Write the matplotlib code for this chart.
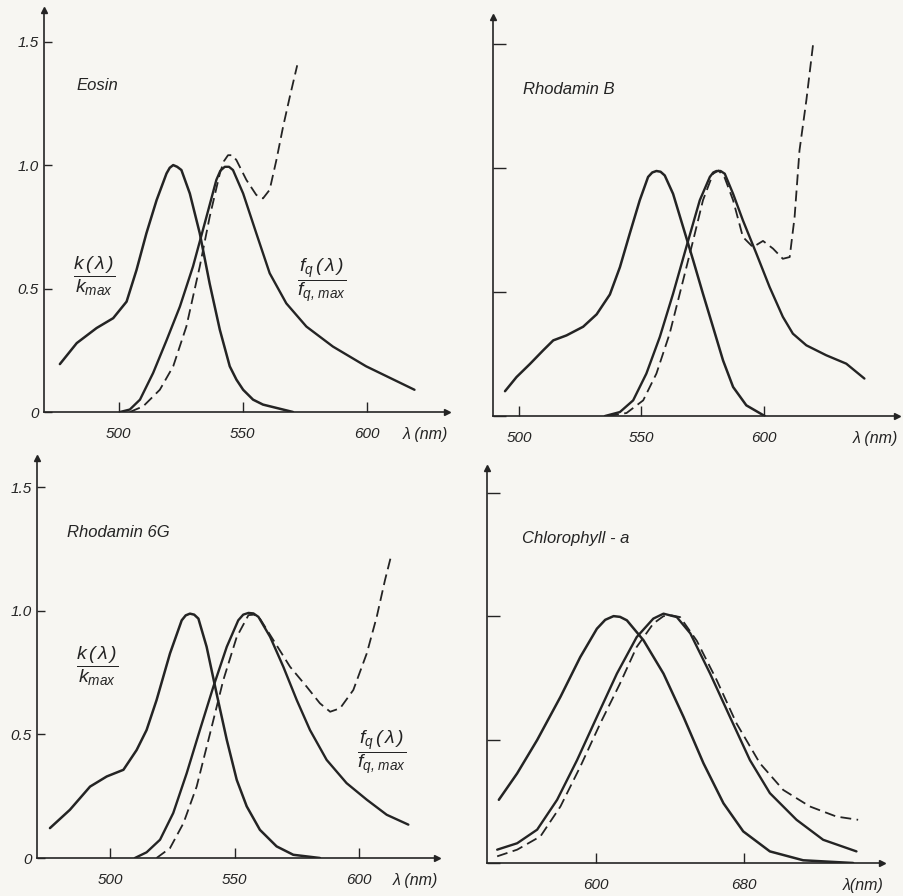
import numpy as np
import matplotlib
matplotlib.use('Agg')
from matplotlib import pyplot as plt

plt.rcParams['font.family'] = ['Liberation Sans', 'DejaVu Sans']
plt.rcParams['font.style'] = 'italic'
plt.rcParams['mathtext.fontset'] = 'custom'
plt.rcParams['mathtext.it'] = 'Liberation Sans:italic'
plt.rcParams['mathtext.rm'] = 'Liberation Sans:italic'

ink = '#242424'
paper = '#f7f6f2'

# ---- Eosin ----
eosin_abs_nm = [476.2, 483.0, 491.0, 497.7, 503.1, 507.1, 511.1, 515.2, 519.2, 520.5, 521.9, 523.5,
                525.2, 528.6, 532.6, 536.6, 540.7, 544.7, 547.4, 550.1, 554.1, 558.1, 570.2]
eosin_abs = [0.194, 0.279, 0.34, 0.38, 0.447, 0.575, 0.724, 0.858, 0.966, 0.989, 1.0, 0.993,
             0.98, 0.885, 0.724, 0.52, 0.333, 0.185, 0.131, 0.09, 0.05, 0.03, 0.0]
eosin_fl_nm = [500.4, 504.4, 508.5, 513.8, 519.2, 524.6, 529.9, 535.3, 539.3, 540.9, 542.7, 544.4,
               546.0, 550.1, 555.4, 560.8, 567.5, 575.6, 586.3, 599.7, 619.2]
eosin_fl = [0.0, 0.01, 0.05, 0.158, 0.29, 0.427, 0.59, 0.79, 0.94, 0.977, 0.993, 0.993,
            0.98, 0.885, 0.724, 0.562, 0.44, 0.346, 0.265, 0.185, 0.09]
eosin_q_nm = [504.4, 509.8, 516.5, 521.9, 527.2, 532.6, 536.6, 540.7, 542.3, 544.0, 545.7, 547.4,
              551.4, 555.4, 558.1, 560.8, 563.5, 566.2, 568.9, 571.9]
eosin_q = [0.0, 0.023, 0.09, 0.185, 0.346, 0.589, 0.79, 0.966, 1.015, 1.04, 1.04, 1.02,
           0.94, 0.879, 0.865, 0.9, 1.02, 1.155, 1.276, 1.404]

# ---- Rhodamin B ----
rhb_abs_nm = [494.3, 499.0, 504.5, 509.9, 514.0, 519.4, 526.2, 531.7, 537.1, 541.2, 545.2, 549.3,
              552.7, 554.4, 556.1, 557.8, 559.5, 562.9, 567.0, 571.1, 575.1, 579.2, 583.3, 587.4,
              592.8, 600.3]
rhb_abs = [0.10, 0.157, 0.21, 0.265, 0.305, 0.325, 0.36, 0.41, 0.49, 0.60, 0.735, 0.87,
           0.964, 0.982, 0.988, 0.985, 0.97, 0.896, 0.762, 0.628, 0.493, 0.359, 0.224, 0.117,
           0.043, 0.0]
rhb_fl_nm = [535.1, 541.2, 546.6, 552.0, 557.5, 562.9, 568.3, 573.8, 577.9, 579.3, 580.6, 582.3,
             584.0, 587.4, 591.4, 596.9, 602.3, 607.7, 611.8, 617.3, 625.4, 633.6, 641.0]
rhb_fl = [0.0, 0.016, 0.063, 0.171, 0.319, 0.493, 0.681, 0.87, 0.964, 0.982, 0.988, 0.988,
          0.977, 0.896, 0.789, 0.655, 0.52, 0.40, 0.332, 0.285, 0.245, 0.211, 0.151]
rhb_q_nm = [536.4, 543.9, 550.7, 556.1, 561.5, 567.0, 571.1, 575.1, 579.2, 581.5, 584.0, 587.4,
            591.4, 595.5, 599.6, 603.7, 607.7, 610.5, 612.5, 614.5, 617.3, 620.0]
rhb_q = [0.0, 0.012, 0.063, 0.171, 0.332, 0.547, 0.708, 0.87, 0.977, 0.99, 0.96, 0.87,
         0.722, 0.681, 0.706, 0.675, 0.634, 0.641, 0.802, 1.071, 1.273, 1.495]

# ---- Rhodamin 6G ----
r6g_abs_nm = [475.9, 483.9, 492.0, 498.7, 505.4, 510.7, 514.7, 518.7, 524.1, 528.8, 530.4, 532.1,
              533.8, 535.5, 538.8, 542.8, 546.9, 550.9, 554.9, 560.2, 566.9, 573.6, 584.3]
r6g_abs = [0.121, 0.195, 0.289, 0.33, 0.357, 0.437, 0.518, 0.639, 0.828, 0.962, 0.982, 0.989,
           0.985, 0.969, 0.855, 0.666, 0.478, 0.316, 0.209, 0.114, 0.047, 0.013, 0.0]
r6g_fl_nm = [510.0, 514.7, 520.1, 525.4, 530.8, 536.1, 541.5, 546.9, 551.5, 553.5, 555.6, 557.6,
             559.6, 564.3, 569.6, 575.0, 580.3, 587.0, 595.0, 603.1, 611.1, 619.8]
r6g_fl = [0.0, 0.023, 0.074, 0.182, 0.343, 0.518, 0.693, 0.855, 0.962, 0.985, 0.992, 0.99,
          0.976, 0.895, 0.774, 0.639, 0.518, 0.397, 0.303, 0.236, 0.175, 0.135]
r6g_q_nm = [518.7, 524.1, 529.5, 534.8, 540.2, 545.5, 550.9, 555.6, 557.9, 560.2, 565.6, 572.3,
            579.0, 584.3, 588.4, 592.4, 597.7, 603.1, 607.1, 610.4, 613.1]
r6g_q = [0.0, 0.04, 0.141, 0.289, 0.505, 0.72, 0.895, 0.983, 0.985, 0.969, 0.882, 0.774,
         0.693, 0.626, 0.592, 0.606, 0.68, 0.828, 0.976, 1.124, 1.232]

# ---- Chlorophyll-a ----
chl_abs_nm = [547.5, 557.4, 568.2, 580.8, 591.5, 600.5, 605.0, 609.5, 613.0, 616.7, 625.7, 636.5,
              647.3, 658.1, 668.9, 679.6, 694.0, 712.0, 739.0]
chl_abs = [0.256, 0.363, 0.498, 0.673, 0.834, 0.949, 0.985, 1.0, 0.997, 0.983, 0.902, 0.767,
           0.592, 0.404, 0.242, 0.128, 0.047, 0.011, 0.0]
chl_fl_nm = [546.6, 557.4, 568.2, 579.0, 589.8, 600.5, 611.3, 622.0, 631.0, 636.5, 643.7, 651.0,
             661.7, 672.4, 683.2, 694.0, 708.4, 722.8, 740.8]
chl_fl = [0.054, 0.08, 0.135, 0.256, 0.417, 0.592, 0.767, 0.915, 0.99, 1.01, 0.996, 0.93,
          0.767, 0.592, 0.417, 0.283, 0.175, 0.094, 0.047]
chl_q_nm = [546.6, 557.4, 570.0, 580.8, 591.5, 602.3, 613.0, 622.0, 631.0, 636.5, 641.0, 645.5,
            654.5, 665.3, 676.0, 688.6, 701.2, 715.6, 730.0, 741.7]
chl_q = [0.027, 0.054, 0.108, 0.229, 0.39, 0.565, 0.727, 0.875, 0.97, 1.0, 1.003, 0.996,
         0.90, 0.74, 0.565, 0.404, 0.296, 0.229, 0.188, 0.175]

names = ['Eosin', 'Rhodamin B', 'Rhodamin 6G', 'Chlorophyll - a']
xticks = [[500, 550, 600], [500, 550, 600], [500, 550, 600], [600, 680]]
yticks = [0, 0.5, 1.0, 1.5]
ylabels = ['0', '0.5', '1.0', '1.5']

# panel boxes in pixels: left, bottom, right, top ; and x/y limits
boxes = [(44, 412, 447, 10), (493, 416, 897, 17), (37, 858, 437, 458), (487, 863, 882, 468)]
xlims = [(469.8, 632.3), (489.4, 654.3), (470.7, 631.3), (541.1, 754.6)]
ylims = [1.628, 1.609, 1.619, 1.60]
name_pos = [(483.1, 1.324), (501.6, 1.315), (482.7, 1.316), (560.0, 1.316)]

data = [(eosin_abs_nm, eosin_abs, eosin_fl_nm, eosin_fl, eosin_q_nm, eosin_q),
        (rhb_abs_nm, rhb_abs, rhb_fl_nm, rhb_fl, rhb_q_nm, rhb_q),
        (r6g_abs_nm, r6g_abs, r6g_fl_nm, r6g_fl, r6g_q_nm, r6g_q),
        (chl_abs_nm, chl_abs, chl_fl_nm, chl_fl, chl_q_nm, chl_q)]

W, H = 904, 896
fig = plt.figure(figsize=(W / 100, H / 100), dpi=100, facecolor=paper)

axes = []
for i in range(4):
    l, b, r, t = boxes[i]
    ax = fig.add_axes([l / W, 1 - b / H, (r - l) / W, (b - t) / H])
    ax.set_facecolor('none')
    ax.set_xlim(*xlims[i])
    ax.set_ylim(0, ylims[i])
    for s in ['top', 'right']:
        ax.spines[s].set_visible(False)
    for s in ['left', 'bottom']:
        ax.spines[s].set_color(ink)
        ax.spines[s].set_linewidth(1.2)

    a_nm, a_v, f_nm, f_v, q_nm, q_v = data[i]
    ax.plot(a_nm, a_v, color=ink, lw=1.8, solid_joinstyle='round', solid_capstyle='round')
    ax.plot(f_nm, f_v, color=ink, lw=1.7, solid_joinstyle='round', solid_capstyle='round')
    ax.plot(q_nm, q_v, color=ink, lw=1.3, ls=(0, (6, 3)))

    ax.set_xticks(xticks[i])
    ax.set_xticklabels([str(v) for v in xticks[i]])
    ax.set_yticks(yticks)
    if i in (0, 2):
        ax.set_yticklabels(ylabels)
        ylen = 6
    else:
        ax.set_yticklabels([])
        ylen = 9
    ax.tick_params(axis='x', direction='in', length=7, width=1.0, color=ink,
                   labelsize=11, labelcolor=ink, pad=11)
    ax.tick_params(axis='y', direction='in', length=ylen, width=1.0, color=ink,
                   labelsize=11, labelcolor=ink, pad=4)

    # arrow heads on axes
    ax.plot(1, 0, '>', color=ink, ms=4, transform=ax.transAxes, clip_on=False)
    ax.plot(0, 1, '^', color=ink, ms=4, transform=ax.transAxes, clip_on=False)

    ax.annotate('λ (nm)' if i < 3 else 'λ(nm)', xy=(1, 0), xycoords='axes fraction',
                xytext=(1, -11), textcoords='offset points', ha='right', va='top',
                fontsize=11.5, color=ink)
    ax.text(name_pos[i][0], name_pos[i][1], names[i], fontsize=12, color=ink,
            ha='left', va='center')
    axes.append(ax)

frac_k = r'$\dfrac{k\,(\,\lambda\,)}{k_{max}}$'
frac_f = r'$\dfrac{f_q\,(\,\lambda\,)}{f_{q,\,max}}$'
axes[0].text(490.0, 0.55, frac_k, fontsize=14, color=ink, ha='center', va='center')
axes[0].text(581.9, 0.53, frac_f, fontsize=14, color=ink, ha='center', va='center')
axes[2].text(494.8, 0.777, frac_k, fontsize=14, color=ink, ha='center', va='center')
axes[2].text(608.9, 0.425, frac_f, fontsize=14, color=ink, ha='center', va='center')

fig.savefig('out.png', dpi=100, facecolor=paper)
